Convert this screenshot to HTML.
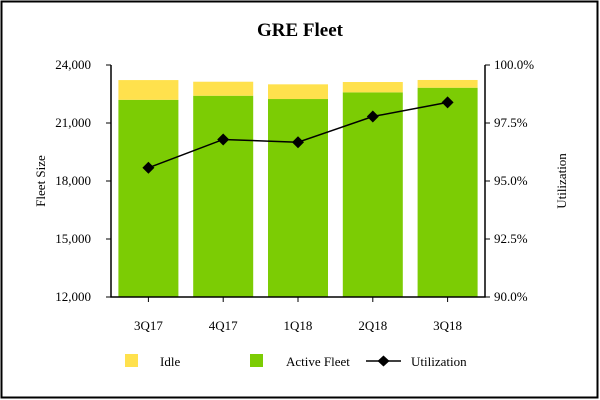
<!DOCTYPE html>
<html><head><meta charset="utf-8"><style>
body{margin:0;background:#fff}
svg{display:block;font-family:"Liberation Serif",serif}
</style></head><body>
<svg id="chart" width="600" height="400">
<rect x="1.5" y="1.5" width="596" height="396" fill="#fff" stroke="#000" stroke-width="2"/>
<text x="300" y="36" text-anchor="middle" font-size="19" font-weight="bold">GRE Fleet</text>
<g id="plot"></g>
<g>
<rect x="125" y="354" width="13" height="13" fill="#ffe14d"/>
<text x="160" y="366" font-size="13">Idle</text>
<rect x="250" y="354" width="13" height="13" fill="#7ccc04"/>
<text x="286" y="366" font-size="13">Active Fleet</text>
<line x1="366" y1="361" x2="401" y2="361" stroke="#000" stroke-width="1.5"/>
<path d="M383.5 355.5 L389.5 361 L383.5 366.5 L377.5 361 Z" fill="#000"/>
<text x="411" y="366" font-size="13">Utilization</text>
</g>
</svg>
<script>
const categories=["3Q17","4Q17","1Q18","2Q18","3Q18"];
const activeFleet=[22200,22410,22240,22585,22825];
const idleFleet=[1020,725,760,535,400];
const utilization=[95.57,96.79,96.67,97.78,98.39];
const leftTicks=[12000,15000,18000,21000,24000];
const rightTicks=[90,92.5,95,97.5,100];
const NS="http://www.w3.org/2000/svg";
const g=document.getElementById('plot');
const X0=111,X1=485,Y0=297,Y1=65;
const band=(X1-X0)/categories.length;
const xc=i=>X0+band*(i+0.5);
const yL=v=>Y0-(v-12000)/(24000-12000)*(Y0-Y1);
const yR=v=>Y0-(v-90)/(100-90)*(Y0-Y1);
function mk(tag,attrs){const e=document.createElementNS(NS,tag);for(const k in attrs)e.setAttribute(k,attrs[k]);g.appendChild(e);return e;}
const fmt=v=>v.toLocaleString('en-US');
categories.forEach((c,i)=>{
 const bw=60,x=xc(i)-bw/2;
 const a=mk('rect',{x:x,y:yL(activeFleet[i]),width:bw,height:Y0-yL(activeFleet[i]),fill:'#7ccc04'});
 
 
 const t=activeFleet[i]+idleFleet[i];
 const b=mk('rect',{x:x,y:yL(t),width:bw,height:yL(activeFleet[i])-yL(t),fill:'#ffe14d'});
 
 
 const tk=mk('line',{x1:xc(i),y1:Y0,x2:xc(i),y2:Y0+5,stroke:'#000'});
 
 
 const lb=mk('text',{x:xc(i),y:Y0+33,'text-anchor':'middle','font-size':13});
 lb.textContent=c;
 
 
});
const ax=mk('path',{d:`M${X0} ${Y1} V${Y0} H${X1} V${Y1}`,fill:'none',stroke:'#000','stroke-width':1.5});


leftTicks.forEach(v=>{
 const l=mk('line',{x1:X0-5,y1:yL(v),x2:X0,y2:yL(v),stroke:'#000'});
 
 
 const t=mk('text',{x:X0-20,y:yL(v)+4,'text-anchor':'end','font-size':13});
 t.textContent=fmt(v);
 
 
});
rightTicks.forEach(v=>{
 const l=mk('line',{x1:X1,y1:yR(v),x2:X1+5,y2:yR(v),stroke:'#000'});
 
 
 const t=mk('text',{x:X1+9,y:yR(v)+4,'font-size':13});
 t.textContent=v.toFixed(1)+'%';
 
 
});
const yt=mk('text',{x:0,y:0,transform:'translate(45 181) rotate(-90)','text-anchor':'middle','font-size':13});
yt.textContent='Fleet Size';


const yt2=mk('text',{x:0,y:0,transform:'translate(566 181) rotate(-90)','text-anchor':'middle','font-size':13});
yt2.textContent='Utilization';


const ln=mk('polyline',{points:utilization.map((v,i)=>xc(i)+','+yR(v)).join(' '),fill:'none',stroke:'#000','stroke-width':1.5});


utilization.forEach((v,i)=>{
 const x=xc(i),y=yR(v);
 const d=mk('path',{d:`M${x} ${y-6} L${x+6} ${y} L${x} ${y+6} L${x-6} ${y} Z`,fill:'#000'});
 
 
});
</script>
</body></html>
